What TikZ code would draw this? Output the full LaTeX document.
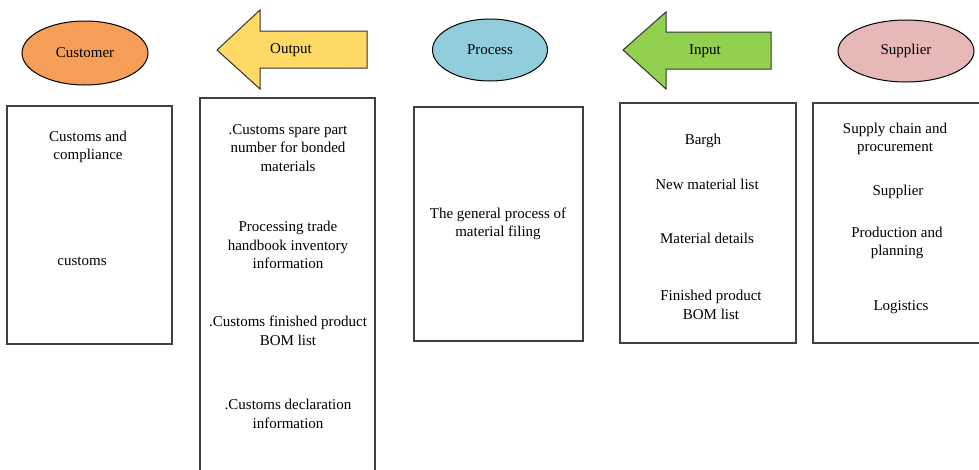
\documentclass[tikz,border=0pt]{standalone}
\usepackage{fontspec}
\newfontfamily\timesfont{Liberation Serif}
\usetikzlibrary{shapes.geometric}
\definecolor{custC}{RGB}{245,158,88}
\definecolor{outC}{RGB}{255,217,102}
\definecolor{procC}{RGB}{146,205,220}
\definecolor{inC}{RGB}{146,208,80}
\definecolor{supC}{RGB}{230,184,183}
\tikzset{
  oval/.style={ellipse, draw=black, line width=1pt, inner sep=0pt},
  colbox/.style={draw=black!75, line width=1.6pt, fill=white},
  arrowshape/.style={draw=black!80, line width=1pt},
  txt/.style={align=center, font=\timesfont\fontsize{15}{18.5}\selectfont, inner sep=0pt},
  head/.style={font=\timesfont\fontsize{15}{16}\selectfont, inner sep=0pt}
}
\begin{document}
\begin{tikzpicture}[x=1pt,y=-1pt]
\useasboundingbox (0,0) rectangle (979,469);
\clip (0,0) rectangle (979,469);
% header shapes
\node[oval, fill=custC, minimum width=126pt, minimum height=64pt] (customer) at (85,53) {};
\node[head] (customerT) at (customer) {Customer};
\draw[arrowshape, fill=outC] (217,50) -- (260,10) -- (260,31) -- (367,31) -- (367,68) -- (260,68) -- (260,89) -- cycle;
\node[head] (output) at (291,50) {Output};
\node[oval, fill=procC, minimum width=115pt, minimum height=62pt] (process) at (490,50) {};
\node[head] (processT) at (process) {Process};
\draw[arrowshape, fill=inC] (623,50) -- (666,12) -- (666,32) -- (771,32) -- (771,69) -- (666,69) -- (666,89) -- cycle;
\node[head] (input) at (705,51) {Input};
\node[oval, fill=supC, minimum width=136pt, minimum height=62pt] (supplier) at (906,51) {};
\node[head] (supplierT) at (supplier) {Supplier};
% boxes
\draw[colbox] (7,106) rectangle (172,344);
\draw[colbox] (200,98) rectangle (375,480);
\draw[colbox] (414,107) rectangle (583,341);
\draw[colbox] (620,103) rectangle (796,343);
\draw[colbox] (813,103) rectangle (985,343);
% customer texts
\node[txt] (c1) at (88,147) {Customs and\\compliance};
\node[txt] (c2) at (82,261) {customs};
% output texts
\node[txt] (o1) at (288,148) {.Customs spare part\\number for bonded\\materials};
\node[txt] (o2) at (288,245) {Processing trade\\handbook inventory\\information};
\node[txt] (o3) at (288,331) {.Customs finished product\\BOM list};
\node[txt] (o4) at (288,414) {.Customs declaration\\information};
% process text
\node[txt] (p1) at (498,224) {The general process of\\material filing};
% input texts
\node[txt] (i1) at (703,141) {Bargh};
\node[txt] (i2) at (707,184) {New material list};
\node[txt] (i3) at (707,238) {Material details};
\node[txt] (i4) at (711,305) {Finished product\\BOM list};
% supplier texts
\node[txt] (s1) at (895,139) {Supply chain and\\procurement};
\node[txt] (s2) at (898,192) {Supplier};
\node[txt] (s3) at (897,243) {Production and\\planning};
\node[txt] (s4) at (901,307) {Logistics};
\end{tikzpicture}
\end{document}
